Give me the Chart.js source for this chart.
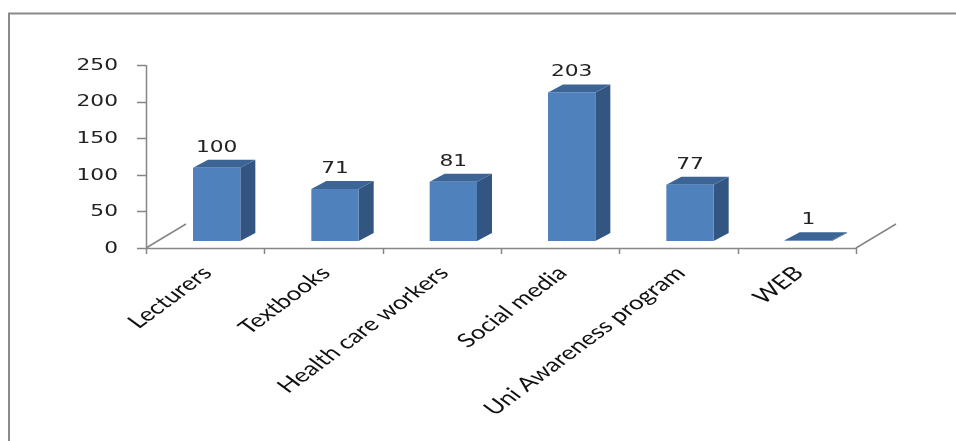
<!DOCTYPE html>
<html>
<head>
<meta charset="utf-8">
<script src="https://cdn.jsdelivr.net/npm/chart.js@4/dist/chart.umd.min.js"></script>
<style>
html,body{margin:0;padding:0;background:#fff;}
#wrap{width:956px;height:441px;position:relative;}
</style>
</head>
<body>
<div id="wrap"><canvas id="c" width="956" height="441" style="width:956px;height:441px"></canvas></div>
<script>
const categories = ['Lecturers', 'Textbooks', 'Health care workers', 'Social media', 'Uni Awareness program', 'WEB'];
const counts = [100, 71, 81, 203, 77, 1];
const yTicks = [0, 50, 100, 150, 200, 250];

const STRETCH = 1.45;
const LABEL_STRETCH = 1.35;
const OX = 11.5, OY = -7;   // bar placement inside floor depth
const DX = 15, DY = -8;     // bar depth
const FLOOR_DX = 40, FLOOR_DY = -24;
const AXIS = '#868686';

function sText(ctx, text, x, y, align, baseline, rot, stretch) {
  ctx.save();
  ctx.translate(x, y);
  ctx.scale(stretch || STRETCH, 1);
  if (rot) ctx.rotate(rot);
  ctx.textAlign = align;
  ctx.textBaseline = baseline;
  ctx.fillText(text, 0, 0);
  ctx.restore();
}

const bar3d = {
  id: 'bar3d',
  afterDraw(chart) {
    const ctx = chart.ctx;
    const ys = chart.scales.y;
    const area = chart.chartArea;
    const y0 = ys.getPixelForValue(0);
    ctx.save();
    // frame
    ctx.strokeStyle = '#8a8a8a';
    ctx.lineWidth = 2;
    ctx.beginPath();
    ctx.moveTo(9, 441); ctx.lineTo(9, 13.5); ctx.lineTo(956, 13.5);
    ctx.stroke();

    // axes
    ctx.strokeStyle = AXIS;
    ctx.lineWidth = 1.5;
    ctx.beginPath();
    ctx.moveTo(area.left + 0.5, ys.getPixelForValue(250));
    ctx.lineTo(area.left + 0.5, y0);
    ctx.moveTo(area.left, y0 + 0.5);
    ctx.lineTo(area.right, y0 + 0.5);
    yTicks.forEach(v => {
      const ty = Math.round(ys.getPixelForValue(v)) + 0.5;
      ctx.moveTo(area.left - 9, ty);
      ctx.lineTo(area.left, ty);
    });
    ctx.moveTo(area.left, y0);
    ctx.lineTo(area.left + FLOOR_DX, y0 + FLOOR_DY);
    ctx.moveTo(area.right, y0);
    ctx.lineTo(area.right + FLOOR_DX, y0 + FLOOR_DY);
    ctx.stroke();
    ctx.beginPath();
    const n = categories.length;
    const step = (area.right - area.left) / n;
    for (let i = 0; i <= n; i++) {
      const tx = Math.round(area.left + i * step) + 0.5;
      ctx.moveTo(tx, y0);
      ctx.lineTo(tx, y0 + 6);
    }
    ctx.stroke();

    // y tick labels
    ctx.fillStyle = '#222';
    ctx.font = '15px "DejaVu Sans"';
    yTicks.forEach(v => {
      sText(ctx, String(v), 118, ys.getPixelForValue(v) + 1, 'right', 'middle', 0);
    });

    // bars
    const meta = chart.getDatasetMeta(0);
    meta.data.forEach((el, i) => {
      const p = el.getProps(['x', 'y', 'base', 'width'], true);
      const L = p.x - p.width / 2 + OX, R = L + p.width;
      const T = p.y + OY, B = p.base + OY;
      ctx.fillStyle = '#325581';
      ctx.beginPath();
      ctx.moveTo(R, T); ctx.lineTo(R + DX, T + DY); ctx.lineTo(R + DX, B + DY); ctx.lineTo(R, B);
      ctx.closePath(); ctx.fill();
      ctx.fillStyle = '#3c6596';
      ctx.beginPath();
      ctx.moveTo(L, T); ctx.lineTo(L + DX, T + DY); ctx.lineTo(R + DX, T + DY); ctx.lineTo(R, T);
      ctx.closePath(); ctx.fill();
      ctx.fillStyle = '#4f81bd';
      ctx.fillRect(L, T, p.width, B - T);
      ctx.fillStyle = '#222';
      ctx.font = '15px "DejaVu Sans"';
      sText(ctx, String(counts[i]), L + p.width / 2, T + DY - 12, 'center', 'middle', 0);
      ctx.fillStyle = '#111';
      ctx.font = '19.3px Lato';
      sText(ctx, categories[i], p.x - 7, y0 + 15, 'right', 'top', -Math.PI / 4, LABEL_STRETCH);
    });
    ctx.restore();
  }
};

new Chart(document.getElementById('c'), {
  type: 'bar',
  data: {
    labels: categories,
    datasets: [{
      data: counts,
      backgroundColor: 'rgba(0,0,0,0)',
      borderWidth: 0,
      barPercentage: 0.4,
      categoryPercentage: 1
    }]
  },
  options: {
    responsive: false,
    animation: false,
    layout: { padding: { left: 146, right: 100, top: 65, bottom: 193 } },
    plugins: { legend: { display: false }, tooltip: { enabled: false } },
    scales: {
      x: { display: false },
      y: { display: false, min: 0, max: 250 }
    }
  },
  plugins: [bar3d]
});
</script>
</body>
</html>
